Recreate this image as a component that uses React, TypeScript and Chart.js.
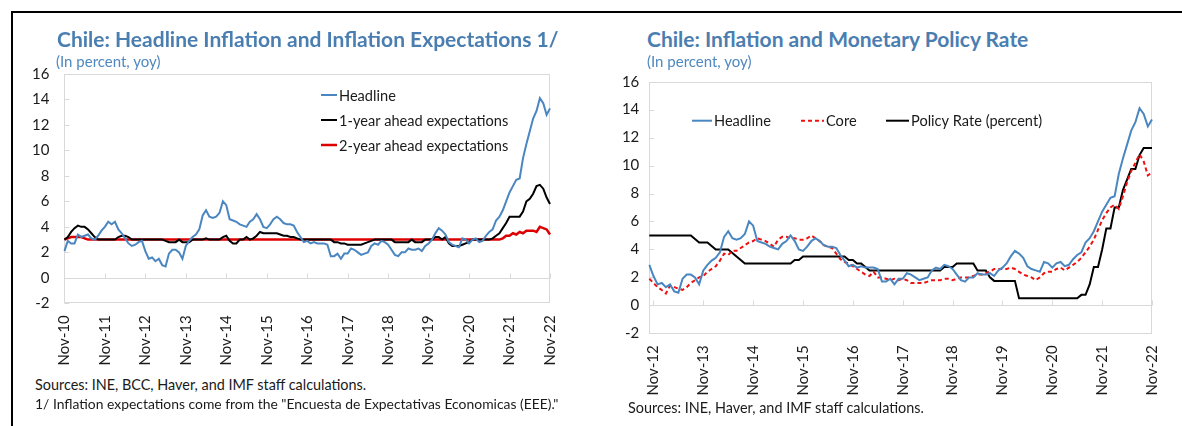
import React, { useEffect, useRef } from "react";
import { Chart, registerables } from "chart.js";

Chart.register(...registerables);

const FONT = "Lato, 'Noto Sans', sans-serif";

// ---------- Chart 1: monthly, Nov-2010 .. Nov-2022 ----------
const headline = [
  2.1, 2.9, 2.7, 2.7, 3.4, 3.2, 3.3, 3.4, 3.1, 3.0, 3.3, 3.7,
  4.0, 4.4, 4.2, 4.4, 3.8, 3.5, 3.1, 2.7, 2.5, 2.6, 2.8, 2.9,
  2.1, 1.5, 1.6, 1.3, 1.5, 1.0, 0.9, 1.9, 2.2, 2.2, 2.0, 1.5,
  2.5, 2.9, 3.2, 3.4, 3.8, 4.9, 5.3, 4.8, 4.7, 4.8, 5.1, 6.0,
  5.7, 4.6, 4.5, 4.4, 4.2, 4.1, 4.0, 4.4, 4.6, 5.0, 4.6, 4.0,
  3.9, 4.2, 4.6, 4.8, 4.6, 4.3, 4.2, 4.2, 4.1, 3.6, 3.2, 2.8,
  2.9, 2.7, 2.8, 2.7, 2.7, 2.7, 2.6, 1.7, 1.7, 1.9, 1.5, 1.9,
  1.9, 2.3, 2.2, 2.0, 1.8, 1.9, 2.0, 2.5, 2.7, 2.6, 2.9, 2.8,
  2.6, 2.2, 1.8, 1.7, 2.0, 2.0, 2.3, 2.2, 2.2, 2.3, 2.1, 2.5,
  2.7, 3.0, 3.5, 3.9, 3.7, 3.4, 2.8, 2.6, 2.5, 2.4, 3.1, 3.0,
  2.7, 3.0, 3.1, 2.8, 2.9, 3.3, 3.6, 3.8, 4.5, 4.8, 5.3, 6.0,
  6.7, 7.2, 7.7, 7.8, 9.4, 10.5, 11.5, 12.5, 13.1, 14.1, 13.7, 12.8, 13.3,
];

const expect1y = [
  3.0, 3.2, 3.6, 3.9, 4.1, 4.0, 4.0, 3.8, 3.5, 3.2, 3.0, 3.0,
  3.0, 3.0, 3.0, 3.0, 3.2, 3.3, 3.3, 3.2, 3.0, 3.0, 3.0, 3.0,
  3.0, 3.0, 3.0, 3.0, 3.0, 3.0, 2.9, 2.8, 2.8, 2.8, 3.0, 2.8,
  2.8, 2.8, 3.0, 3.0, 3.0, 3.0, 3.1, 3.0, 3.0, 3.0, 3.0, 3.2,
  3.3, 2.9, 2.7, 2.7, 3.0, 3.0, 3.2, 3.0, 3.1, 3.3, 3.6, 3.5,
  3.5, 3.5, 3.5, 3.5, 3.4, 3.3, 3.3, 3.2, 3.2, 3.1, 3.0, 3.0,
  3.0, 3.0, 3.0, 3.0, 3.0, 3.0, 3.0, 3.0, 2.8, 2.8, 2.7, 2.7,
  2.6, 2.6, 2.6, 2.6, 2.6, 2.7, 2.8, 2.9, 3.0, 3.0, 3.0, 3.0,
  3.0, 3.0, 2.8, 2.8, 2.8, 2.8, 2.8, 3.0, 2.8, 2.8, 2.8, 3.0,
  3.0, 3.0, 3.2, 3.2, 3.0, 3.2, 2.7, 2.5, 2.5, 2.5, 2.6, 2.7,
  2.8, 3.0, 3.0, 3.0, 3.0, 3.0, 3.0, 3.1, 3.3, 3.5, 3.9, 4.3,
  4.8, 4.8, 4.8, 4.8, 5.2, 6.0, 6.2, 6.6, 7.2, 7.3, 7.0, 6.3, 5.8,
];

const expect2y = [
  3.0, 3.1, 3.2, 3.2, 3.2, 3.2, 3.1, 3.0, 3.0, 3.0, 3.0, 3.0,
  3.0, 3.0, 3.0, 3.0, 3.0, 3.0, 3.0, 3.0, 3.0, 3.0, 3.0, 3.0,
  3.0, 3.0, 3.0, 3.0, 3.0, 3.0, 3.0, 3.0, 3.0, 3.0, 3.0, 3.0,
  3.0, 3.0, 3.0, 3.0, 3.0, 3.0, 3.0, 3.0, 3.0, 3.0, 3.0, 3.0,
  3.0, 3.0, 3.0, 3.0, 3.0, 3.0, 3.0, 3.0, 3.0, 3.0, 3.0, 3.0,
  3.0, 3.0, 3.0, 3.0, 3.0, 3.0, 3.0, 3.0, 3.0, 3.0, 3.0, 3.0,
  3.0, 3.0, 3.0, 3.0, 3.0, 3.0, 3.0, 3.0, 3.0, 3.0, 3.0, 3.0,
  3.0, 3.0, 3.0, 3.0, 3.0, 3.0, 3.0, 3.0, 3.0, 3.0, 3.0, 3.0,
  3.0, 3.0, 3.0, 3.0, 3.0, 3.0, 3.0, 3.0, 3.0, 3.0, 3.0, 3.0,
  3.0, 3.0, 3.0, 3.0, 3.0, 3.0, 3.0, 3.0, 3.0, 3.0, 3.0, 3.0,
  3.0, 3.0, 3.0, 3.0, 3.0, 3.0, 3.0, 3.0, 3.0, 3.0, 3.1, 3.3,
  3.3, 3.5, 3.4, 3.6, 3.5, 3.7, 3.7, 3.7, 3.6, 4.0, 3.9, 3.8, 3.4,
];

// ---------- Chart 2: monthly, Oct-2012 .. Nov-2022 ----------
const headline2 = headline.slice(23); // Oct-2012 onward

const core = [
  1.9, 1.6, 1.3, 1.1, 0.85, 1.4, 1.3, 1.2, 1.1, 1.3,
  1.6, 1.8, 2.0, 2.1, 2.4, 2.6, 2.8, 3.2, 3.7, 3.6,
  3.9, 3.9, 4.1, 4.3, 4.5, 4.6, 4.8, 4.7, 4.6, 4.4,
  4.2, 4.7, 4.9, 4.9, 4.8, 4.8, 4.7, 4.7, 4.8, 5.0,
  4.8, 4.6, 4.3, 4.2, 4.1, 3.7, 3.3, 3.1, 3.0, 2.8,
  2.6, 2.4, 2.2, 2.1, 2.4, 2.0, 2.0, 1.9, 1.8, 1.9,
  1.8, 1.9, 1.8, 1.6, 1.6, 1.6, 1.6, 1.7, 1.8, 1.8,
  1.8, 1.9, 1.9, 1.8, 1.9, 2.0, 2.0, 2.0, 2.1, 2.2,
  2.2, 2.3, 2.4, 2.6, 2.6, 2.6, 2.6, 2.7, 2.6, 2.4,
  2.2, 2.1, 2.0, 1.8, 2.0, 2.3, 2.4, 2.4, 2.6, 2.7,
  2.5, 2.7, 2.9, 3.1, 3.4, 3.8, 4.2, 4.7, 5.4, 6.1,
  6.6, 7.0, 7.2, 6.9, 7.8, 8.8, 9.6, 10.2, 10.8, 10.3, 9.3, 9.5,
];

const policyRate = [
  5.0, 5.0, 5.0, 5.0, 5.0, 5.0, 5.0, 5.0, 5.0, 5.0,
  5.0, 4.75, 4.5, 4.5, 4.5, 4.25, 4.0, 4.0, 4.0, 4.0,
  3.75, 3.5, 3.25, 3.0, 3.0, 3.0, 3.0, 3.0, 3.0, 3.0,
  3.0, 3.0, 3.0, 3.0, 3.0, 3.25, 3.25, 3.5, 3.5, 3.5,
  3.5, 3.5, 3.5, 3.5, 3.5, 3.5, 3.5, 3.5, 3.25, 3.25,
  3.0, 3.0, 2.75, 2.5, 2.5, 2.5, 2.5, 2.5, 2.5, 2.5,
  2.5, 2.5, 2.5, 2.5, 2.5, 2.5, 2.5, 2.5, 2.5, 2.5,
  2.5, 2.75, 2.75, 2.75, 3.0, 3.0, 3.0, 3.0, 3.0, 2.5,
  2.5, 2.5, 2.0, 1.75, 1.75, 1.75, 1.75, 1.75, 1.75, 0.5,
  0.5, 0.5, 0.5, 0.5, 0.5, 0.5, 0.5, 0.5, 0.5, 0.5,
  0.5, 0.5, 0.5, 0.5, 0.75, 0.75, 1.5, 2.75, 2.75, 4.0,
  5.5, 5.5, 7.0, 7.0, 8.25, 9.0, 9.75, 9.75, 10.75, 11.25, 11.25, 11.25,
];

const MONTHS = ["Jan", "Feb", "Mar", "Apr", "May", "Jun", "Jul", "Aug", "Sep", "Oct", "Nov", "Dec"];
function monthLabels(year: number, month: number, n: number): string[] {
  const out: string[] = [];
  for (let i = 0; i < n; i++) {
    const m = (month + i) % 12;
    const y = year + Math.floor((month + i) / 12);
    out.push(`${MONTHS[m]}-${String(y % 100).padStart(2, "0")}`);
  }
  return out;
}
const months1 = monthLabels(2010, 10, headline.length);
const months2 = monthLabels(2012, 9, headline2.length);

const Y_MIN = -2;
const Y_MAX = 16;
const Y_STEP = 2;

const decorPlugin = {
  id: "decor",
  beforeDatasetsDraw(chart: any) {
    const { ctx, chartArea: a, scales } = chart;
    const xs = scales.x;
    const ys = scales.y;
    ctx.save();
    ctx.strokeStyle = "#d9d9d9";
    ctx.lineWidth = 1;
    ctx.strokeRect(Math.round(a.left) + 0.5, Math.round(a.top) + 0.5, Math.round(a.right - a.left) - 1, Math.round(a.bottom - a.top) - 1);
    const y0 = Math.round(ys.getPixelForValue(0)) + 0.5;
    ctx.beginPath();
    ctx.moveTo(a.left, y0);
    ctx.lineTo(a.right, y0);
    for (let v = Y_MIN; v <= Y_MAX; v += Y_STEP) {
      const yy = Math.round(ys.getPixelForValue(v)) + 0.5;
      ctx.moveTo(a.left, yy);
      ctx.lineTo(a.left + 5, yy);
    }
    const labels: string[] = chart.data.labels;
    labels.forEach((l: string, i: number) => {
      if (l.startsWith("Nov")) {
        const xx = Math.round(xs.getPixelForValue(i)) + 0.5;
        ctx.moveTo(xx, y0);
        ctx.lineTo(xx, y0 - 5);
      }
    });
    ctx.stroke();
    ctx.restore();
  },
  afterDraw(chart: any, _a: any, opts: any) {
    const ctx = chart.ctx;
    const items = (opts && opts.items) || [];
    ctx.save();
    items.forEach((it: any) => {
      const ds = chart.data.datasets[it.ds];
      ctx.strokeStyle = ds.borderColor;
      ctx.lineWidth = ds.borderWidth;
      ctx.setLineDash(ds.borderDash || []);
      ctx.beginPath();
      ctx.moveTo(it.x, it.y);
      ctx.lineTo(it.x + it.len, it.y);
      ctx.stroke();
      ctx.setLineDash([]);
      ctx.fillStyle = "#1a1a1a";
      ctx.font = opts.font;
      ctx.textBaseline = "middle";
      ctx.textAlign = "left";
      ctx.fillText(ds.label, it.x + it.len + 2, it.y + 1);
    });
    ctx.restore();
  },
};

function makeOptions(labels: string[], yWidth: number, xHeight: number, yPad: number, layoutPad: any, legendItems: any[]) {
  return {
    responsive: false,
    animation: false as const,
    layout: { padding: layoutPad },
    plugins: {
      legend: { display: false },
      tooltip: { enabled: false },
      decor: { items: legendItems, font: `14.6px ${FONT}` },
    },
    elements: { point: { radius: 0 }, line: { tension: 0 } },
    scales: {
      x: {
        type: "category" as const,
        offset: false,
        grid: { display: false, drawTicks: false },
        border: { display: false },
        ticks: {
          autoSkip: false,
          minRotation: 90,
          maxRotation: 90,
          padding: 12,
          color: "#1a1a1a",
          font: { family: FONT, size: 15 },
          callback: (_v: any, i: number) => (labels[i].startsWith("Nov") ? labels[i] : ""),
        },
        afterFit: (s: any) => {
          s.height = xHeight;
        },
      },
      y: {
        min: Y_MIN,
        max: Y_MAX,
        grid: { display: false, drawTicks: false },
        border: { display: false },
        ticks: { stepSize: Y_STEP, padding: yPad, color: "#1a1a1a", font: { family: FONT, size: 15 } },
        afterFit: (s: any) => {
          s.width = yWidth;
        },
      },
    },
  };
}

function Chart1() {
  const ref = useRef<HTMLCanvasElement>(null);
  useEffect(() => {
    const chart = new Chart(ref.current!, {
      type: "line",
      data: {
        labels: months1,
        datasets: [
          { label: "Headline", data: headline, borderColor: "#4a86c0", borderWidth: 2 },
          { label: "1-year ahead expectations", data: expect1y, borderColor: "#000000", borderWidth: 2 },
          { label: "2-year ahead expectations", data: expect2y, borderColor: "#dd0000", borderWidth: 2.5 },
        ],
      },
      options: makeOptions(months1, 50.4, 66.7, 15, { top: 22.7, right: 15.7, left: 0, bottom: 0 }, [
        { ds: 0, x: 307, y: 45, len: 16 },
        { ds: 1, x: 307, y: 70, len: 16 },
        { ds: 2, x: 307, y: 95, len: 16 },
      ]) as any,
      plugins: [decorPlugin],
    });
    return () => chart.destroy();
  }, []);
  return <canvas ref={ref} width={566} height={320} style={{ position: "absolute", left: 14, top: 50, width: 566, height: 320 }} />;
}

function Chart2() {
  const ref = useRef<HTMLCanvasElement>(null);
  useEffect(() => {
    const chart = new Chart(ref.current!, {
      type: "line",
      data: {
        labels: months2,
        datasets: [
          { label: "Headline", data: headline2, borderColor: "#4a86c0", borderWidth: 2 },
          { label: "Core", data: core, borderColor: "#ee1111", borderWidth: 2, borderDash: [4, 3] },
          { label: "Policy Rate (percent)", data: policyRate, borderColor: "#000000", borderWidth: 2 },
        ],
      },
      options: makeOptions(months2, 59.3, 61.7, 10, { top: 21.7, right: 15.3, left: 0, bottom: 0 }, [
        { ds: 0, x: 102, y: 60.7, len: 20 },
        { ds: 1, x: 211, y: 60.7, len: 23 },
        { ds: 2, x: 296, y: 60.7, len: 23 },
      ]) as any,
      plugins: [decorPlugin],
    });
    return () => chart.destroy();
  }, []);
  return <canvas ref={ref} width={592} height={335} style={{ position: "absolute", left: 590, top: 60, width: 592, height: 335 }} />;
}

const titleStyle: React.CSSProperties = {
  position: "absolute",
  fontFamily: FONT,
  fontWeight: 700,
  fontSize: 21,
  lineHeight: "24px",
  color: "#4a7eb1",
  whiteSpace: "nowrap",
};
const subStyle: React.CSSProperties = {
  position: "absolute",
  fontFamily: FONT,
  fontSize: 15,
  lineHeight: "20px",
  color: "#4f88c0",
  whiteSpace: "nowrap",
};
const noteStyle: React.CSSProperties = {
  position: "absolute",
  fontFamily: FONT,
  fontSize: 14.4,
  lineHeight: "20px",
  color: "#1a1a1a",
  whiteSpace: "nowrap",
};

export default function App() {
  return (
    <div style={{ position: "fixed", left: 0, top: 0, width: 1182, height: 426, background: "#fff", overflow: "hidden" }}>
      <div style={{ position: "absolute", left: 11, top: 11, width: 1171, height: 415, borderTop: "2px solid #000", borderLeft: "2px solid #000", boxSizing: "border-box" }} />
      <Chart1 />
      <Chart2 />
      <div style={{ ...titleStyle, left: 57, top: 27 }}>Chile: Headline Inflation and Inflation Expectations 1/</div>
      <div style={{ ...subStyle, left: 56, top: 51 }}>(In percent, yoy)</div>
      <div style={{ ...titleStyle, left: 647, top: 27 }}>Chile: Inflation and Monetary Policy Rate</div>
      <div style={{ ...subStyle, left: 647, top: 51 }}>(In percent, yoy)</div>
      <div style={{ ...noteStyle, left: 35, top: 375 }}>Sources: INE, BCC, Haver, and IMF staff calculations.</div>
      <div style={{ ...noteStyle, fontSize: 13.9, left: 35, top: 394 }}>1/ Inflation expectations come from the "Encuesta de Expectativas Economicas (EEE)."</div>
      <div style={{ ...noteStyle, left: 628, top: 398 }}>Sources: INE, Haver, and IMF staff calculations.</div>
    </div>
  );
}
